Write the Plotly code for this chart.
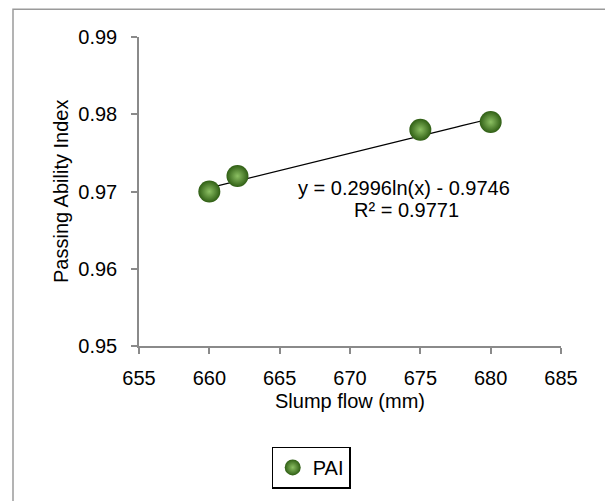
import plotly.graph_objects as go
import numpy as np

slump_flow = [660, 662, 675, 680]
pai = [0.970, 0.972, 0.978, 0.979]
trend_a = 0.2996
trend_b = -0.9746
r_squared = 0.9771
x_ticks = [655, 660, 665, 670, 675, 680, 685]
y_ticks = [0.95, 0.96, 0.97, 0.98, 0.99]

# page body has an 8px margin: figure drawn 8px in from window corner
OFF = 8
W, H = 613 - OFF, 501 - OFF
L, T = 139 - OFF, 37 - OFF
PR, PB = 561 - OFF, 350 - OFF
R, B = W - PR, H - PB
pw, ph = PR - L, PB - T

def px(x):
    return (x - OFF - L) / pw

def py(y):
    return (PB - (y - OFF)) / ph

tx = np.linspace(min(slump_flow), max(slump_flow), 50)
ty = trend_a * np.log(tx) + trend_b

fig = go.Figure()
fig.add_trace(go.Scatter(x=tx, y=ty, mode="lines", line=dict(color="black", width=1.2),
                         showlegend=False, hoverinfo="skip"))
fig.add_trace(go.Scatter(x=slump_flow, y=pai, mode="markers", name="PAI",
                         marker=dict(size=22, color="#2f5e14",
                                     gradient=dict(type="radial", color="#8cc063"),
                                     line=dict(width=0))))

FS = 20
font = dict(family="Liberation Sans, Arial, sans-serif", size=FS, color="black")
axis_common = dict(showgrid=False, zeroline=False, showline=True, linecolor="#8a8a8a",
                   linewidth=1.5, ticks="outside", ticklen=6, tickcolor="#8a8a8a",
                   tickwidth=1.5, tickfont=font)
fig.update_xaxes(range=[655, 685], tickvals=x_ticks, ticklabelstandoff=7, **axis_common)
fig.update_yaxes(range=[0.95, 0.99], tickvals=y_ticks, tickformat=".2f",
                 ticklabelstandoff=10, **axis_common)

def ann(text, x, y, **kw):
    return dict(text=text, x=px(x), y=py(y), xref="paper", yref="paper",
                xanchor="center", yanchor="middle", showarrow=False, font=font, **kw)

fig.update_layout(
    width=W, height=H, margin=dict(l=L, r=R, t=T, b=B),
    paper_bgcolor="white", plot_bgcolor="white", font=font,
    legend=dict(x=px(311), y=py(452), xanchor="center", yanchor="top",
                bordercolor="black", borderwidth=1.2, font=font, itemwidth=30),
    annotations=[
        ann(f"y = {trend_a}ln(x) - {abs(trend_b)}", 404, 190),
        ann(f"R² = {r_squared}", 406, 212),
        ann("Slump flow (mm)", 350, 406),
        ann("Passing Ability Index", 61, 194, textangle=-90),
    ],
    shapes=[dict(type="rect", xref="paper", yref="paper", x0=px(13), x1=px(609),
                 y0=py(510), y1=py(9), line=dict(color="#9a9a9a", width=1.5),
                 fillcolor="rgba(0,0,0,0)", layer="below")],
)
fig.write_html("out.html")
